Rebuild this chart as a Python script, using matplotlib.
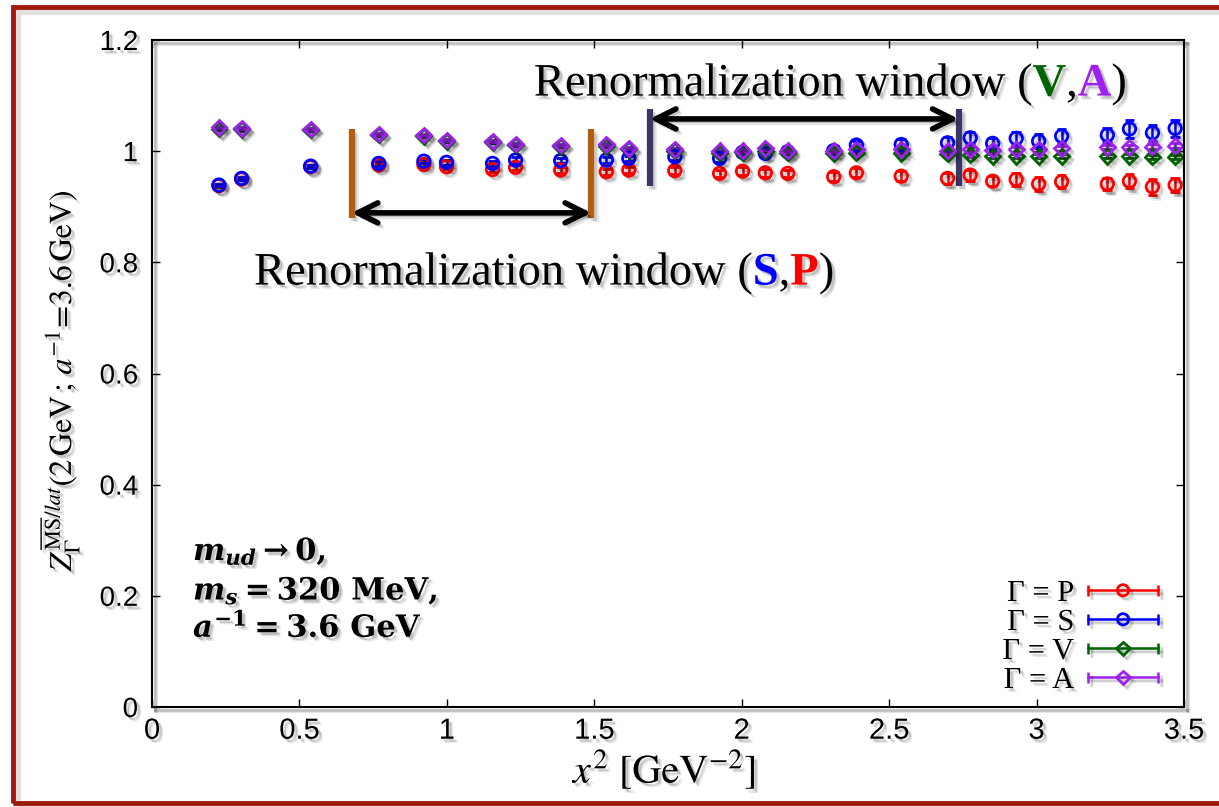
import numpy as np
import matplotlib
matplotlib.use("Agg")
import matplotlib.pyplot as plt
from matplotlib import patheffects as pe
from matplotlib.legend_handler import HandlerBase
from matplotlib.lines import Line2D
from matplotlib.patches import Rectangle
from matplotlib.ticker import FormatStrFormatter

# ---------------------------------------------------------------- data
x2 = [0.227, 0.304, 0.538, 0.769, 0.922, 0.999, 1.155, 1.233, 1.386, 1.541,
      1.617, 1.773, 1.925, 2.003, 2.080, 2.156, 2.312, 2.389, 2.541, 2.698,
      2.775, 2.851, 2.931, 3.007, 3.085, 3.240, 3.315, 3.393, 3.470]

z_P = [0.938, 0.950, 0.972, 0.975, 0.976, 0.972, 0.967, 0.971, 0.966, 0.963,
       0.966, 0.965, 0.960, 0.964, 0.961, 0.960, 0.954, 0.961, 0.955, 0.951,
       0.957, 0.946, 0.949, 0.941, 0.945, 0.941, 0.946, 0.936, 0.939]
err_P = [0.002, 0.002, 0.003, 0.004, 0.004, 0.004, 0.004, 0.005, 0.005, 0.005,
         0.005, 0.006, 0.006, 0.007, 0.007, 0.007, 0.008, 0.008, 0.009, 0.010,
         0.010, 0.009, 0.011, 0.012, 0.012, 0.011, 0.013, 0.014, 0.013]

z_S = [0.939, 0.951, 0.973, 0.978, 0.982, 0.980, 0.978, 0.984, 0.983, 0.984,
       0.987, 0.990, 0.987, 0.998, 0.996, 0.999, 1.001, 1.011, 1.012, 1.015,
       1.024, 1.014, 1.023, 1.018, 1.027, 1.029, 1.040, 1.033, 1.041]
err_S = [0.002, 0.002, 0.003, 0.004, 0.004, 0.004, 0.004, 0.005, 0.005, 0.005,
         0.005, 0.006, 0.006, 0.007, 0.007, 0.007, 0.008, 0.008, 0.009, 0.010,
         0.011, 0.010, 0.012, 0.012, 0.013, 0.013, 0.016, 0.014, 0.015]

z_V = [1.040, 1.039, 1.038, 1.029, 1.027, 1.018, 1.016, 1.011, 1.009, 1.009,
       1.003, 1.001, 0.997, 0.998, 1.001, 0.997, 0.996, 0.997, 0.996, 0.995,
       0.994, 0.991, 0.991, 0.991, 0.991, 0.991, 0.991, 0.990, 0.990]
err_V = [0.002] * 10 + [0.003] * 10 + [0.004] * 9

z_A = [1.043, 1.041, 1.040, 1.031, 1.029, 1.020, 1.018, 1.013, 1.011, 1.012,
       1.005, 1.003, 1.001, 1.001, 1.005, 1.001, 1.001, 1.003, 1.003, 1.001,
       1.003, 1.002, 1.003, 1.003, 1.005, 1.007, 1.007, 1.008, 1.010]
err_A = [0.002] * 10 + [0.003] * 10 + [0.004] * 9

legend_labels = ["Γ = P", "Γ = S", "Γ = V", "Γ = A"]
x_ticks = [0, 0.5, 1, 1.5, 2, 2.5, 3, 3.5]
y_ticks = [0, 0.2, 0.4, 0.6, 0.8, 1.0, 1.2]

# renormalization windows (x range)
win_SP = (0.677, 1.490)
win_VA = (1.688, 2.736)

# ---------------------------------------------------------------- style
RED, BLUE, GREEN, PURPLE = "#ff0000", "#0000ff", "#006400", "#a020f0"
plt.rcParams.update({
    "mathtext.fontset": "custom",
    "mathtext.rm": "DejaVu Serif:bold",
    "mathtext.bf": "DejaVu Serif:bold",
    "mathtext.it": "DejaVu Serif:italic:bold",
})

TXT_FX = [pe.SimplePatchShadow(offset=(3, -3), shadow_rgbFace="k", alpha=0.10),
          pe.SimplePatchShadow(offset=(2, -2), shadow_rgbFace="k", alpha=0.16),
          pe.Normal()]
LINE_FX = [pe.SimpleLineShadow(offset=(3, -3), shadow_color="k", alpha=0.08),
           pe.SimpleLineShadow(offset=(2, -2), shadow_color="k", alpha=0.14),
           pe.Normal()]
PATCH_FX = [pe.Stroke(offset=(3, -3), linewidth=3, foreground="k", alpha=0.10),
            pe.Stroke(offset=(2, -2), linewidth=2, foreground="k", alpha=0.16),
            pe.Normal()]

fig = plt.figure(figsize=(12.19, 8.07), dpi=100)
fig.patch.set_facecolor("white")

# outer frame
frame = Rectangle((13 / 1219, 4 / 807), 1.0, 796 / 807, transform=fig.transFigure,
                  fill=False, edgecolor="#9e1b0c", linewidth=3.5, clip_on=False)
frame.set_path_effects([pe.Stroke(offset=(3, -3), linewidth=6, foreground="k", alpha=0.12),
                        pe.Normal()])
fig.add_artist(frame)

ax = fig.add_axes([152 / 1219, 1 - 707 / 807, 1032 / 1219, 667 / 807])
ax.set_xlim(0, 3.5)
ax.set_ylim(0, 1.2)

# ---------------------------------------------------------------- data series
series = [
    (z_P, err_P, RED, "o", 9.0),
    (z_S, err_S, BLUE, "o", 9.0),
    (z_V, err_V, GREEN, "D", 7.5),
    (z_A, err_A, PURPLE, "D", 7.5),
]
handles = []
for (z, e, c, m, ms), lab in zip(series, legend_labels):
    cont = ax.errorbar(x2, z, yerr=e, fmt=m, color=c, mfc="none", mec=c, mew=2.0,
                       ms=ms, elinewidth=1.8, capsize=3.5, capthick=1.8)
    cont[0].set_path_effects(LINE_FX)
    for cl in cont[1]:
        cl.set_path_effects(LINE_FX)
    for bl in cont[2]:
        bl.set_path_effects(LINE_FX)
    handles.append(Line2D([], [], color=c, marker=m, markersize=ms * 0.9))

# ---------------------------------------------------------------- windows
def window(xr, ybar, yarrow, color):
    for xv in xr:
        ln, = ax.plot([xv, xv], ybar, color=color, lw=4.5, solid_capstyle="butt")
        ln.set_path_effects(LINE_FX)
    ann = ax.annotate("", xy=(xr[0], yarrow), xytext=(xr[1], yarrow),
                      arrowprops=dict(arrowstyle="<->, head_length=0.9, head_width=0.45",
                                      mutation_scale=16, lw=4, color="black",
                                      shrinkA=0, shrinkB=0))
    ann.arrow_patch.set_path_effects(PATCH_FX)

window(win_SP, (0.880, 1.039), 0.889, "#b05e10")
window(win_VA, (0.937, 1.075), 1.058, "#3b3764")


def colored_text(x, y, pieces, size):
    kw = dict(fontsize=size, family="Liberation Serif")
    s, c, w = pieces[0]
    t = ax.text(x, y, s, color=c, fontweight=w, va="baseline", ha="left", **kw)
    t.set_path_effects(TXT_FX)
    for s, c, w in pieces[1:]:
        t = ax.annotate(s, xy=(1, 0), xycoords=t, va="bottom", ha="left",
                        color=c, fontweight=w, **kw)
        t.set_path_effects(TXT_FX)


colored_text(1.295, 1.100, [("Renormalization window (", "black", "normal"),
                            ("V", GREEN, "bold"), (",", "black", "normal"),
                            ("A", PURPLE, "bold"), (")", "black", "normal")], 33.5)
colored_text(0.346, 0.760, [("Renormalization window (", "black", "normal"),
                            ("S", BLUE, "bold"), (",", "black", "normal"),
                            ("P", RED, "bold"), (")", "black", "normal")], 33.5)

# ---------------------------------------------------------------- parameter box
params = [r"$m_{ud} \to 0,$",
          r"$m_s = 320\ \mathrm{MeV},$",
          r"$a^{-1} = 3.6\ \mathrm{GeV}$"]
for yb, s in zip([0.264, 0.193, 0.126], params):
    t = ax.text(0.139, yb, s, fontsize=22, va="baseline", ha="left",
                math_fontfamily="custom")
    t.set_path_effects(TXT_FX)

# ---------------------------------------------------------------- legend
class CapLineHandler(HandlerBase):
    def create_artists(self, legend, orig_handle, xdescent, ydescent,
                       width, height, fontsize, trans):
        y = (height - ydescent) / 2
        x0, x1 = -xdescent, width - xdescent
        c = orig_handle.get_color()
        line = Line2D([x0, x1], [y, y], color=c, lw=1.8)
        caps = Line2D([x0, x1], [y, y], ls="none", marker="|", ms=8, mew=1.8, color=c)
        mk = Line2D([(x0 + x1) / 2], [y], ls="none", marker=orig_handle.get_marker(),
                    ms=orig_handle.get_markersize(), mfc="none", mec=c, mew=2)
        arts = [line, caps, mk]
        for a in arts:
            a.set_transform(trans)
            a.set_path_effects(LINE_FX)
        return arts


leg = ax.legend(handles, legend_labels, handler_map={Line2D: CapLineHandler()},
                loc="lower right", bbox_to_anchor=(0.975, 0.018), frameon=False,
                markerfirst=False, prop={"family": "Liberation Serif", "size": 22},
                handlelength=2.3, handletextpad=0.45, labelspacing=0.0,
                borderpad=0, borderaxespad=0)
for t in leg.get_texts():
    t.set_path_effects(TXT_FX)

# ---------------------------------------------------------------- axes
ax.set_xticks(x_ticks)
ax.set_yticks(y_ticks)
ax.xaxis.set_major_formatter(FormatStrFormatter("%g"))
ax.yaxis.set_major_formatter(FormatStrFormatter("%g"))
ax.tick_params(direction="in", length=6, width=1.0, top=True, right=True)
ax.tick_params(axis="x", pad=7, labelsize=21)
ax.tick_params(axis="y", pad=10, labelsize=20)
for tk in ax.xaxis.get_major_ticks() + ax.yaxis.get_major_ticks():
    tk.label1.set_family("Liberation Sans")
    tk.label1.set_path_effects(TXT_FX)
for sp in ax.spines.values():
    sp.set_linewidth(1.5)
    sp.set_path_effects(PATCH_FX)

ax.set_xlabel(r"$x^2\ [\mathrm{GeV}^{-2}]$", fontsize=29, math_fontfamily="stix")
ax.xaxis.set_label_coords(0.497, -0.094)
ax.xaxis.label.set_va("center")
ax.xaxis.label.set_path_effects(TXT_FX)

ax.set_ylabel(r"$Z_{\Gamma}^{\overline{\mathrm{MS}}/lat}(2\,\mathrm{GeV}\,;\,a^{-1}\!=\!3.6\,\mathrm{GeV})$",
              fontsize=23, math_fontfamily="stix")
ax.yaxis.set_label_coords(-0.090, 0.49)
ax.yaxis.label.set_va("center")
ax.yaxis.label.set_path_effects(TXT_FX)

fig.savefig("out.png", dpi=100)
